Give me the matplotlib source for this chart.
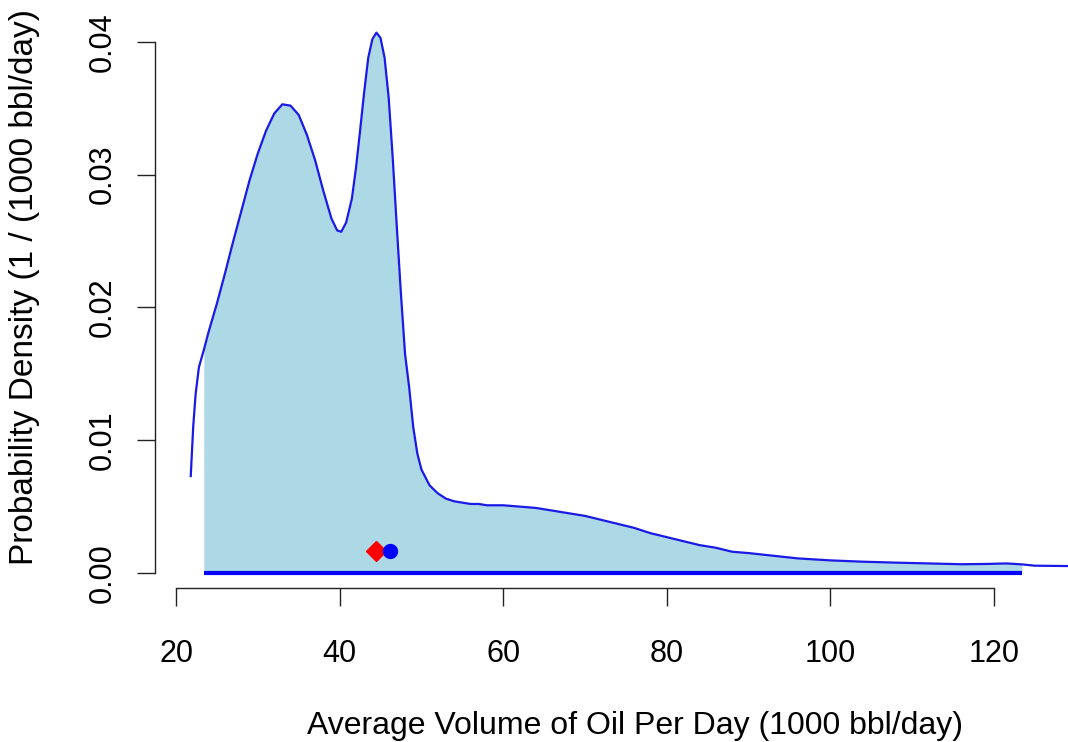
import matplotlib
matplotlib.use("Agg")
import matplotlib.pyplot as plt
import numpy as np

# density curve
oil_x = [21.8, 22.1, 22.4, 22.8, 23.4, 24.0, 25.0, 26.0, 27.0, 28.0, 29.0, 30.0,
         31.0, 32.0, 33.0, 34.0, 35.0, 36.0, 37.0, 38.0, 39.0, 39.7, 40.2, 40.8,
         41.5, 42.0, 42.5, 43.0, 43.5, 44.0, 44.5, 45.0, 45.5, 46.0, 46.5, 47.0,
         47.5, 48.0, 48.5, 49.0, 49.5, 50.0, 51.0, 52.0, 53.0, 54.0, 55.0, 56.0,
         57.0, 58.0, 59.0, 60.0, 62.0, 64.0, 66.0, 68.0, 70.0, 72.0, 74.0, 76.0,
         78.0, 80.0, 82.0, 84.0, 86.0, 88.0, 90.0, 93.0, 96.0, 100.0, 104.0, 108.0,
         112.0, 116.0, 119.0, 121.5, 123.4, 125.0, 129.5]
density = [0.0073, 0.0110, 0.0135, 0.0155, 0.0168, 0.0182, 0.0203, 0.0226, 0.0250,
           0.0273, 0.0296, 0.0316, 0.0333, 0.0346, 0.0353, 0.0352, 0.0345, 0.0330,
           0.0311, 0.0288, 0.0267, 0.0258, 0.0257, 0.0264, 0.0282, 0.0305, 0.0333,
           0.0362, 0.0388, 0.0402, 0.0407, 0.0403, 0.0388, 0.0358, 0.0312, 0.0260,
           0.0210, 0.0165, 0.0140, 0.0110, 0.0090, 0.0078, 0.0066, 0.0060, 0.0056,
           0.0054, 0.0053, 0.0052, 0.0052, 0.0051, 0.0051, 0.0051, 0.0050, 0.0049,
           0.0047, 0.0045, 0.0043, 0.0040, 0.0037, 0.0034, 0.0030, 0.0027, 0.0024,
           0.0021, 0.0019, 0.0016, 0.0015, 0.0013, 0.0011, 0.00095, 0.00085, 0.00078,
           0.00072, 0.00066, 0.00068, 0.00072, 0.00065, 0.00055, 0.00052]

# shaded interval
lo, hi = 23.4, 123.4
# point estimates
mode_x, mean_x, marker_y = 44.4, 46.2, 0.00168

plt.rcParams["font.family"] = ["Liberation Sans", "DejaVu Sans"]

fig = plt.figure(figsize=(10.68, 7.42), dpi=100)
ax = fig.add_axes([155 / 1068, 1 - 588 / 742, 1 - 155 / 1068, (588 - 18) / 742])

x = np.array(oil_x)
y = np.array(density)
sel = (x >= lo) & (x <= hi)
ax.fill_between(x[sel], 0, y[sel], color="#ADD8E6", linewidth=0)
ax.plot(x, y, color="#1a1ae6", lw=1.6)
ax.plot([lo, hi], [0, 0], color="#0000FF", lw=3, solid_capstyle="butt")
ax.plot(mode_x, marker_y, marker="D", color="red", markersize=10, linestyle="None")
ax.plot(mean_x, marker_y, marker="o", color="blue", markersize=10, linestyle="None")

ax.set_xlim(17.43, 129.05)
ax.set_ylim(-0.00113, 0.0418)

for s in ("top", "right"):
    ax.spines[s].set_visible(False)
ax.spines["left"].set_bounds(0, 0.04)
ax.spines["bottom"].set_bounds(20, 120)
for s in ("left", "bottom"):
    ax.spines[s].set_linewidth(1.0)
    ax.spines[s].set_color("#222222")

ax.set_xticks([20, 40, 60, 80, 100, 120])
ax.set_yticks([0.00, 0.01, 0.02, 0.03, 0.04])
ax.set_yticklabels(["0.00", "0.01", "0.02", "0.03", "0.04"], rotation=90, va="center")
ax.tick_params(direction="out", length=13, width=1.0, color="#222222", labelsize=22)
ax.tick_params(axis="x", pad=24)
ax.tick_params(axis="y", pad=14)

ax.set_xlabel("Average Volume of Oil Per Day (1000 bbl/day)", fontsize=23)
ax.set_ylabel("Probability Density (1 / (1000 bbl/day)", fontsize=24)
ax.xaxis.set_label_coords((635 - 155) / 913, -(726 - 588) / 570, transform=ax.transAxes)
ax.yaxis.set_label_coords(-(155 - 25) / 913, (588 - 287) / 570, transform=ax.transAxes)
ax.xaxis.label.set_va("center")
ax.yaxis.label.set_va("center")

fig.savefig("out.png", dpi=100)
